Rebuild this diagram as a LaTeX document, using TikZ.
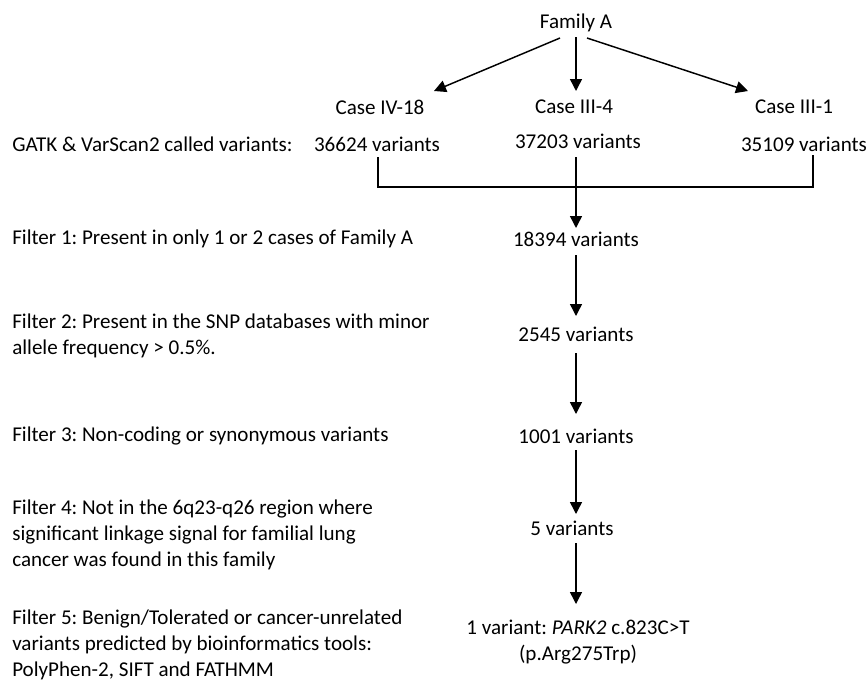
\documentclass[tikz,border=0pt]{standalone}
\usepackage{fontspec}
\setmainfont{Carlito}
\usetikzlibrary{arrows.meta,calc}
\begin{document}
\frenchspacing
\begin{tikzpicture}[x=0.75pt,y=-0.75pt,
 txt/.style={inner sep=0pt,font=\fontsize{15.8}{19.5}\selectfont},
 lab/.style={txt,anchor=west,align=left},
 num/.style={txt,anchor=center,align=center},
 arr/.style={line width=1.1pt,-{Triangle[length=9pt,width=9pt]}},
 ln/.style={line width=1.1pt}]
\useasboundingbox (0,0) rectangle (867,683);
% top
\node[num] (fam) at (576,23) {Family A};
\node[num] (c1) at (380,107) {Case IV-18};
\node[num] (c2) at (574,107) {Case III-4};
\node[num] (c3) at (794,107) {Case III-1};
\node[lab] (gatk) at (12,144) {GATK \& VarScan2 called variants:};
\node[num] (v1) at (377,144) {36624 variants};
\node[num] (v2) at (578,141) {37203 variants};
\node[num] (v3) at (804,144) {35109 variants};
% filters
\node[lab] (f1) at (12,239) {Filter 1: Present in only 1 or 2 cases of Family A};
\node[num] (n1) at (576,239) {18394 variants};
\node[lab] (f2) at (12,336) {Filter 2: Present in the SNP databases with minor\\allele frequency > 0.5\%.};
\node[num] (n2) at (576,334) {2545 variants};
\node[lab] (f3) at (12,436) {Filter 3: Non-coding or synonymous variants};
\node[num] (n3) at (576,436) {1001 variants};
\node[lab] (f4) at (12,535) {Filter 4: Not in the 6q23-q26 region where\\significant linkage signal for familial lung\\cancer was found in this family};
\node[num] (n4) at (572,528) {5 variants};
\node[lab] (f5) at (12,645) {Filter 5: Benign/Tolerated or cancer-unrelated\\variants predicted by bioinformatics tools:\\PolyPhen-2, SIFT and FATHMM};
\node[num] (n5) at (578,642) {1 variant: \textit{PARK2} c.823C>T\\(p.Arg275Trp)};
% connectors
\draw[arr] ($(fam)+(-16,15)$) -- ($(c1)+(54,-16)$);
\draw[arr] ($(fam)+(0,14)$) -- ($(c2)+(2,-16)$);
\draw[arr] ($(fam)+(11,15)$) -- ($(c3)+(-46,-16)$);
\draw[ln] ($(v1)+(1,13)$) -- ($(v1)+(1,43)$) -| ($(v3)+(9,11)$);
\draw[arr] ($(v2)+(-2,16)$) -- ($(n1)+(0,-11)$);
\draw[arr] ($(n1)+(0,16)$) -- ($(n2)+(0,-18)$);
\draw[arr] ($(n2)+(0,19)$) -- ($(n3)+(0,-22)$);
\draw[arr] ($(n3)+(0,14)$) -- ($(n4)+(4,-14)$);
\draw[arr] ($(n4)+(4,15)$) -- ($(n5)+(-2,-38)$);
\end{tikzpicture}
\end{document}
